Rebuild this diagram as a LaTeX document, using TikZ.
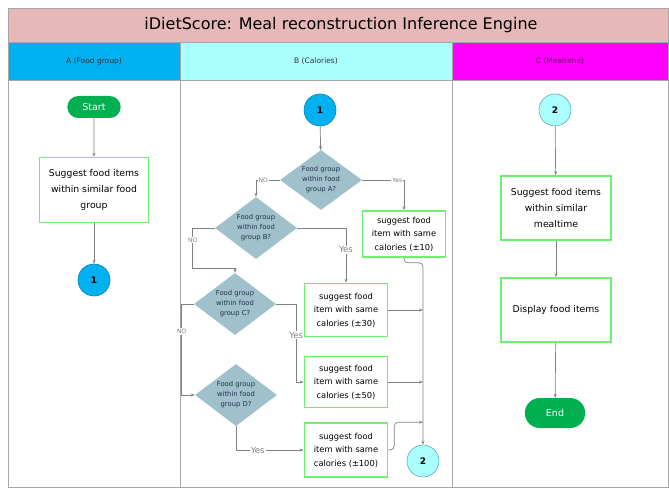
\documentclass[tikz,border=0pt]{standalone}
\usepackage{fontspec}
\setmainfont{DejaVu Sans}
\usepackage{xcolor}
\usetikzlibrary{shapes.geometric}
\usetikzlibrary{shapes.misc}
\usetikzlibrary{arrows.meta}

\definecolor{titlepink}{RGB}{230,185,184}
\definecolor{laneA}{RGB}{0,176,240}
\definecolor{laneB}{RGB}{170,255,255}
\definecolor{laneC}{RGB}{255,0,255}
\definecolor{boxgreen}{RGB}{110,240,110}
\definecolor{termgreen}{RGB}{0,176,80}
\definecolor{diafill}{RGB}{160,192,204}
\definecolor{diatext}{RGB}{35,50,80}
\definecolor{linegray}{RGB}{128,128,128}

\tikzset{
  flow/.style={draw=linegray,line width=0.7pt,-{Stealth[length=4pt,width=3pt]}},
  procbox/.style={draw=boxgreen,line width=1.6pt,fill=white,align=center,inner sep=2pt,
    font=\fontsize{9.3}{16}\selectfont},
  calbox/.style={procbox,minimum width=83pt,minimum height=51pt,
    font=\fontsize{8.3}{13.5}\selectfont},
  decision/.style={diamond,fill=diafill,aspect=1.3,inner sep=0pt,minimum width=82pt,
    minimum height=62pt,align=center,text=diatext,font=\fontsize{6.8}{10}\selectfont},
  term/.style={rounded rectangle,fill=termgreen,text=white,font=\fontsize{9.5}{10}\selectfont},
  con/.style={circle,minimum size=32pt,inner sep=0pt,line width=0.6pt,
    font=\bfseries\fontsize{9}{9}\selectfont},
  lbl/.style={fill=white,inner sep=1pt,text=linegray,font=\fontsize{6}{6}\selectfont},
  lblbig/.style={lbl,font=\fontsize{8.5}{8.5}\selectfont}
}

\begin{document}
\begin{tikzpicture}[x=1pt,y=-1pt]
  \useasboundingbox (0,0) rectangle (669,489);

  % lanes
  \fill[titlepink] (8,8) rectangle (669,42);
  \fill[laneA] (8,42) rectangle (180,80);
  \fill[laneB] (180,42) rectangle (452,80);
  \fill[laneC] (452,42) rectangle (669,80);
  \draw[black!35,line width=0.8pt] (8,8) rectangle (668,487);
  \draw[black!35,line width=0.8pt] (8,42) -- (668,42) (8,80) -- (668,80);
  \draw[black!35,line width=0.8pt] (180,42) -- (180,487) (452,42) -- (452,487);

  \node (title) at (341,25) {\fontsize{16}{16}\selectfont iDietScore: Meal reconstruction Inference Engine};
  \node[font=\fontsize{7.5}{8}\selectfont,text=black!80] (headA) at (94,61) {A (Food group)};
  \node[font=\fontsize{7.5}{8}\selectfont,text=black!80] (headB) at (316,61) {B (Calories)};
  \node[font=\fontsize{7.5}{8}\selectfont,text=black!60!laneC] (headC) at (560,61) {C (Mealtime)};

  % A (Food group)
  \node[term,minimum width=60pt,minimum height=22pt] (start) at (94,107) {Start};
  \node[procbox,minimum width=109pt,minimum height=65pt] (foodgrp) at (94,190) {Suggest food items\\within similar food\\group};
  \node[con,fill=laneA,draw=laneA!75!black] (conA) at (94,280) {1};

  % B (Calories)
  \node[con,fill=laneA,draw=laneA!75!black] (conB) at (320,110) {1};
  \node[decision,minimum height=60pt] (grpA) at (321,180) {Food group\\within food\\group A?};
  \node[decision] (grpB) at (256,228) {Food group\\within food\\group B?};
  \node[decision] (grpC) at (235,304) {Food group\\within food\\group C?};
  \node[decision] (grpD) at (236,395) {Food group\\within food\\group D?};
  \node[calbox,minimum height=46pt] (cal10) at (404,234) {suggest food\\item with same\\calories (±10)};
  \node[calbox,minimum height=53pt] (cal30) at (346,310) {suggest food\\item with same\\calories (±30)};
  \node[calbox] (cal50) at (346,382) {suggest food\\item with same\\calories (±50)};
  \node[calbox,minimum height=54pt] (cal100) at (346,450) {suggest food\\item with same\\calories (±100)};
  \node[con,fill=laneB,draw=laneA!60!black!60] (conB2) at (423,461) {2};

  % C (Mealtime)
  \node[con,fill=laneB,draw=laneA!60!black!60] (conC) at (555,110) {2};
  \node[procbox,minimum width=110pt,minimum height=64pt] (mealtime) at (556,208) {Suggest food items\\within similar\\mealtime};
  \node[procbox,minimum width=110pt,minimum height=64pt] (display) at (556,310) {Display food items};
  \node[term,minimum width=67pt,minimum height=30pt] (finish) at (555,413) {End};

  \draw[flow] (start) -- (foodgrp);
  \draw[flow] (foodgrp) -- (conA);

  \draw[flow] (conB) -- (grpA);
  \draw[flow] (grpA.west) -| node[lbl,pos=0.35] {NO} (grpB.north);
  \draw[flow] (grpA.east) -| node[lbl,pos=0.42] {Yes} (cal10.north);
  \draw[flow] (grpB.east) -| node[lblbig,pos=0.7] {Yes} (cal30.north);
  \draw[flow] (grpB.west) -| node[lbl,pos=0.65] {NO} ++(-22,40) -| (grpC.north);
  \draw[flow] (grpC.east) -- ++(20,0) |- node[lblbig,pos=0.2] {Yes} (cal50.west);
  \draw[flow] (grpC.west) -- ++(-12,0) |- node[lbl,pos=0.15] {NO} (grpD.west);
  \draw[flow] (grpD.south) |- node[lblbig,pos=0.66] {Yes} (cal100.west);
  \draw[flow,rounded corners=4pt] (cal10.south) -- ++(0,5) -| (conB2.north);
  \draw[flow] (cal30.east) -- (cal30.east -| conB2.north);
  \draw[flow] (cal50.east) -- (cal50.east -| conB2.north);
  \draw[flow,rounded corners=4pt] (cal100.east) -- ++(6,0) |- (cal100.north -| conB2.north);

  \draw[flow] (conC) -- (mealtime);
  \draw[flow] (mealtime) -- (display);
  \draw[flow] (display) -- (finish);
\end{tikzpicture}
\end{document}
